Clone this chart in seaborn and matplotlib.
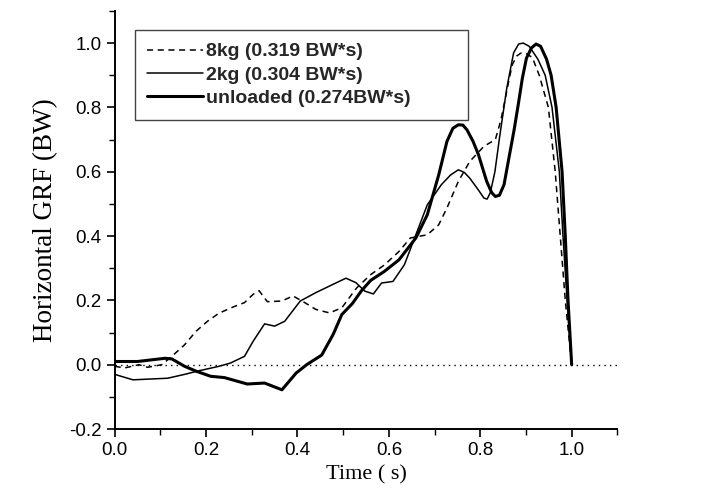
import numpy as np
import pandas as pd
import matplotlib
matplotlib.use("Agg")
import matplotlib.pyplot as plt
import seaborn as sns
from matplotlib.ticker import MultipleLocator, FormatStrFormatter

# 8kg load (dashed)
t_8kg = [0.0, 0.022, 0.053, 0.072, 0.103, 0.125, 0.153, 0.178, 0.203, 0.228, 0.26, 0.284,
         0.303, 0.316, 0.334, 0.366, 0.39, 0.416, 0.44, 0.47, 0.497, 0.529, 0.56, 0.59,
         0.622, 0.647, 0.684, 0.709, 0.727, 0.752, 0.777, 0.808, 0.833, 0.845, 0.852,
         0.862, 0.87, 0.88, 0.889, 0.9, 0.914, 0.929, 0.949, 0.964, 0.975, 0.986, 1.0]
f_8kg = [-0.005, -0.01, 0.0, -0.008, 0.0, 0.026, 0.062, 0.104, 0.135, 0.16, 0.18, 0.193,
         0.219, 0.23, 0.196, 0.198, 0.214, 0.193, 0.172, 0.161, 0.177, 0.238, 0.28, 0.31,
         0.352, 0.394, 0.404, 0.435, 0.487, 0.57, 0.632, 0.679, 0.7, 0.76, 0.808,
         0.88, 0.933, 0.96, 0.969, 0.968, 0.955, 0.9, 0.8, 0.6, 0.4, 0.2, 0.0]

# 2kg load (thin)
t_2kg = [0.0, 0.04, 0.116, 0.153, 0.184, 0.228, 0.253, 0.284, 0.303, 0.328, 0.35, 0.372,
         0.406, 0.44, 0.478, 0.506, 0.528, 0.547, 0.566, 0.584, 0.609, 0.634, 0.659,
         0.684, 0.715, 0.735, 0.752, 0.765, 0.777, 0.795, 0.808, 0.815, 0.822, 0.832,
         0.842, 0.858, 0.873, 0.884, 0.894, 0.907, 0.926, 0.942, 0.957, 0.973, 0.981,
         0.99, 1.0]
f_2kg = [-0.03, -0.047, -0.042, -0.03, -0.019, -0.005, 0.005, 0.026, 0.073, 0.127, 0.12,
         0.135, 0.198, 0.224, 0.25, 0.269, 0.255, 0.229, 0.22, 0.254, 0.259, 0.311, 0.404,
         0.497, 0.56, 0.59, 0.606, 0.598, 0.58, 0.545, 0.518, 0.515, 0.535, 0.6,
         0.705, 0.86, 0.97, 0.997, 1.0, 0.99, 0.95, 0.9, 0.8, 0.6, 0.4,
         0.2, 0.0]

# unloaded (thick)
t_unl = [0.0, 0.05, 0.11, 0.125, 0.153, 0.178, 0.21, 0.24, 0.29, 0.328, 0.366, 0.397,
         0.42, 0.453, 0.478, 0.497, 0.52, 0.54, 0.56, 0.59, 0.622, 0.659, 0.684, 0.709,
         0.727, 0.74, 0.752, 0.762, 0.771, 0.784, 0.796, 0.814, 0.825, 0.833, 0.842,
         0.852, 0.864, 0.874, 0.883, 0.892, 0.901, 0.912, 0.922, 0.932, 0.945, 0.955,
         0.966, 0.979, 0.986, 0.992, 1.0]
f_unl = [0.01, 0.01, 0.02, 0.018, -0.005, -0.02, -0.036, -0.04, -0.06, -0.057, -0.078,
         -0.026, 0.0, 0.03, 0.094, 0.156, 0.19, 0.23, 0.262, 0.29, 0.326, 0.394, 0.466,
         0.59, 0.694, 0.735, 0.746, 0.745, 0.73, 0.695, 0.653, 0.57, 0.535, 0.523, 0.527,
         0.56, 0.653, 0.73, 0.808, 0.89, 0.953, 0.985, 0.997, 0.99, 0.95, 0.9,
         0.8, 0.6, 0.4, 0.2, 0.0]

labels = ["8kg (0.319 BW*s)", "2kg (0.304 BW*s)", "unloaded (0.274BW*s)"]

sns.set_style("ticks")
plt.rcParams["font.family"] = ["Liberation Sans", "DejaVu Sans"]

fig = plt.figure(figsize=(7.08, 4.96), dpi=100)
ax = fig.add_axes([0.162, 0.135, 0.71, 0.843])

sns.lineplot(x=t_8kg, y=f_8kg, ax=ax, color="black", lw=1.1,
             linestyle=(0, (4, 3)), label=labels[0])
sns.lineplot(x=t_2kg, y=f_2kg, ax=ax, color="black", lw=1.1, label=labels[1])
sns.lineplot(x=t_unl, y=f_unl, ax=ax, color="black", lw=2.2, label=labels[2])

ax.axhline(0, color="black", lw=1.0, linestyle=(0, (1, 3)), zorder=0)

ax.set_xlim(0, 1.1)
ax.set_ylim(-0.2, 1.1)
ax.xaxis.set_major_locator(MultipleLocator(0.2))
ax.xaxis.set_minor_locator(MultipleLocator(0.1))
ax.yaxis.set_major_locator(MultipleLocator(0.2))
ax.yaxis.set_minor_locator(MultipleLocator(0.1))
ax.xaxis.set_major_formatter(FormatStrFormatter("%.1f"))
ax.yaxis.set_major_formatter(FormatStrFormatter("%.1f"))
ax.tick_params(which="major", direction="out", length=6, width=1.2, labelsize=13.5,
               color="black", labelcolor="black")
ax.tick_params(which="minor", direction="out", length=4, width=1.0, color="black")

sns.despine(ax=ax)
for side in ["left", "bottom"]:
    ax.spines[side].set_linewidth(1.4)
    ax.spines[side].set_color("black")

ax.set_xlabel("Time ( s)", family="Liberation Serif", fontsize=16, color="black", labelpad=4)
ax.set_ylabel("Horizontal GRF (BW)", family="Liberation Serif", fontsize=19.5,
              color="black", labelpad=8)

leg = ax.legend(loc="upper left", bbox_to_anchor=(0.04, 0.732, 0.663, 0.222),
                mode="expand", borderaxespad=0, frameon=True, fancybox=False,
                handlelength=2.85, handletextpad=0.15, labelspacing=0.3, borderpad=0.65,
                prop={"family": "Liberation Sans", "weight": "bold", "size": 14})
leg.get_frame().set_edgecolor("#444444")
leg.get_frame().set_linewidth(1.0)
leg.get_frame().set_alpha(1)

fig.savefig("out.png", dpi=100)
